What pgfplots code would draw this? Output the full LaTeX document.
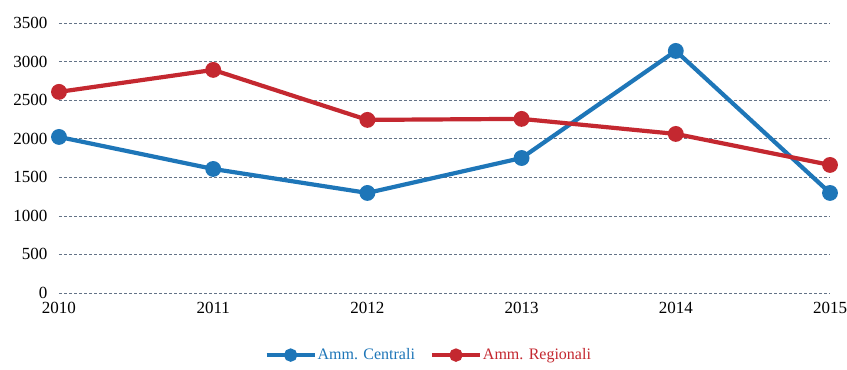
\documentclass[border=0pt]{standalone}
\usepackage{pgfplots}
\pgfplotsset{compat=1.18}
\usepackage{fontspec}
\setmainfont{Liberation Serif}
\definecolor{cblue}{RGB}{30,118,184}
\definecolor{cred}{RGB}{196,40,48}
\definecolor{cgrid}{RGB}{100,115,135}
\begin{document}
\begin{tikzpicture}
\begin{axis}[
  scale only axis,
  width=771pt, height=270pt,
  xmin=2010, xmax=2015, ymin=0, ymax=3500,
  xtick={2010,2011,2012,2013,2014,2015},
  ytick={0,500,1000,1500,2000,2500,3000,3500},
  /pgf/number format/.cd, set thousands separator={}, assume math mode=true,
  /pgfplots/.cd,
  axis line style={draw=none},
  major tick length=0pt,
  ymajorgrids,
  grid style={cgrid, line width=0.7pt, densely dashed},
  tick label style={font=\fontsize{17}{20}\selectfont},
  yticklabel style={xshift=-8pt},
  xticklabel style={yshift=-6pt},
  legend style={at={(0.479,-0.23)}, anchor=center, draw=none, legend columns=2,
    font=\fontsize{16}{19}\selectfont, inner xsep=0pt, inner ysep=0pt,
    /tikz/every even column/.append style={column sep=14pt},
    nodes={inner xsep=1pt}},
  legend cell align=left,
  legend image code/.code={\draw[#1, line width=4pt] (0pt,0pt) -- (48pt,0pt); \fill[#1] (24pt,0pt) circle (4.5pt);},
  clip=false,
]
\addplot[cblue, line width=4.2pt, mark=*, mark size=5.8pt, mark options={solid}] coordinates {
  (2010,2023) (2011,1608) (2012,1297) (2013,1750) (2014,3138) (2015,1297)
};
\addlegendentry{\textcolor{cblue}{Amm. Centrali}}
\addplot[cred, line width=4.2pt, mark=*, mark size=5.8pt, mark options={solid}] coordinates {
  (2010,2607) (2011,2892) (2012,2244) (2013,2257) (2014,2062) (2015,1660)
};
\addlegendentry{\textcolor{cred}{Amm. Regionali}}
\end{axis}
\pgfresetboundingbox
\path (current axis.south west) ++(-59pt,-76pt) coordinate (bbA);
\path (current axis.north east) ++(17pt,23pt) coordinate (bbB);
\useasboundingbox (bbA) rectangle (bbB);
\end{tikzpicture}
\end{document}
